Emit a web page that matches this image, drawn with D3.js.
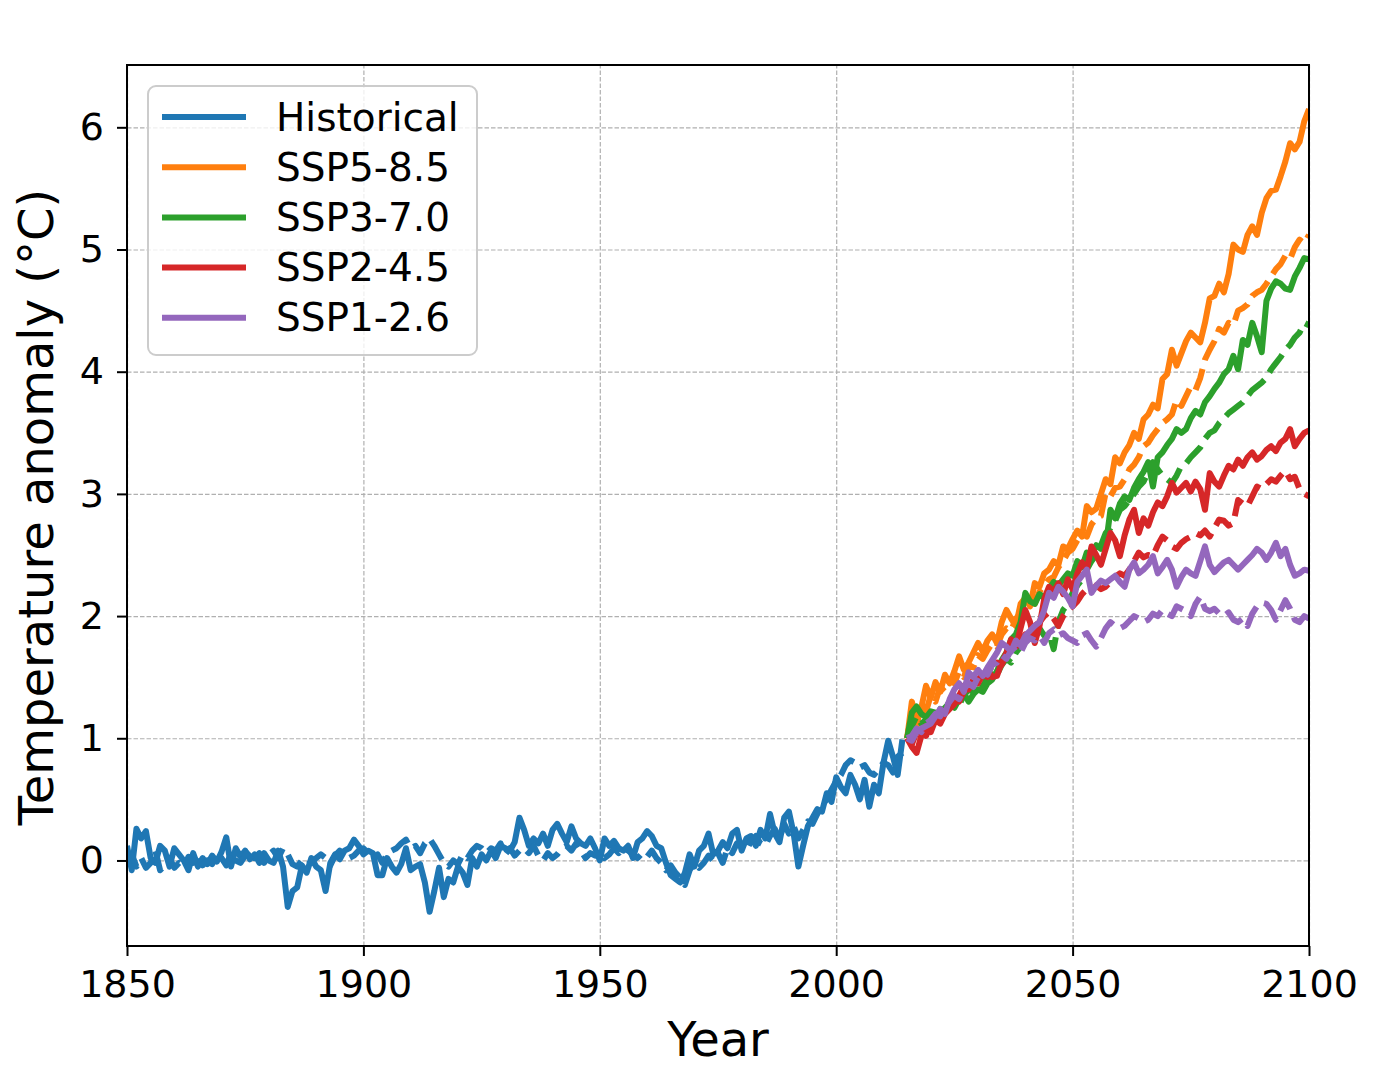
<!doctype html>
<html lang="en">
  <head>
    <meta charset="UTF-8" />
    <title>Temperature anomaly</title>
    <script src="https://unpkg.com/d3@7.9.0/dist/d3.min.js"></script>
    <style>
      body {
        margin: 0;
        background: #fff;
        font-family: 'DejaVu Sans', sans-serif;
        overflow: hidden;
      }
      .grid line {
        stroke: #b0b0b0;
        stroke-width: 1.2;
        stroke-dasharray: 4.5, 2;
      }
      .grid .domain {
        display: none;
      }
      .axis text {
        font-size: 38px;
        fill: #000;
        font-family: 'DejaVu Sans', sans-serif;
      }
      .axis line,
      .axis path {
        stroke: #000;
        stroke-width: 2;
      }
      .axis-label {
        font-size: 48px;
        fill: #000;
      }
    </style>
  </head>
  <body>
    <svg width="1391" height="1072"></svg>

    <script>
      // historical runs, 1850-2014
      const histYears = d3.range(1850, 2015);
      const histSolid = [
        0.12, -0.08, 0.26, 0.18, 0.24, 0.02, -0.02, 0.12, 0.08, -0.05,
        0.1, 0.05, 0.0, -0.08, 0.06, -0.05, 0.02, -0.03, 0.04, -0.01,
        0.07, 0.19, -0.05, 0.1, 0.03, 0.08, 0.01, 0.05, -0.02, 0.06,
        0.0, -0.02, 0.08, -0.05, -0.38, -0.25, -0.22, -0.04, -0.1, 0.02,
        -0.05, -0.08, -0.25, -0.02, 0.05, 0.01, 0.08, 0.1, 0.17, 0.12,
        0.05, 0.08, 0.06, -0.12, -0.12, 0.02, -0.05, -0.1, -0.03, 0.1,
        -0.08, -0.05, -0.03, -0.18, -0.42, -0.25, -0.06, -0.3, -0.15, -0.18,
        -0.05, -0.1, -0.2, 0.02, -0.05, 0.05, 0.0, 0.08, 0.02, 0.12,
        0.1, 0.08, 0.15, 0.35, 0.25, 0.12, 0.18, 0.14, 0.22, 0.12,
        0.25, 0.3, 0.22, 0.15, 0.28, 0.18, 0.14, 0.12, 0.18, 0.1,
        0.0, 0.18, 0.12, 0.16, 0.1, 0.08, 0.12, 0.02, 0.15, 0.18,
        0.24, 0.2, 0.12, 0.1, -0.02, -0.12, -0.15, -0.18, -0.1, 0.05,
        -0.05, 0.08, 0.12, 0.22, 0.05, 0.08, 0.15, 0.1, 0.22, 0.25,
        0.08, 0.18, 0.2, 0.12, 0.25, 0.18, 0.38, 0.22, 0.15, 0.35,
        0.4, 0.22, -0.05, 0.12, 0.28, 0.35, 0.42, 0.4, 0.55, 0.48,
        0.68, 0.6, 0.55, 0.7, 0.62, 0.5, 0.66, 0.44, 0.62, 0.55,
        0.8, 0.98, 0.85, 0.7, 0.99,
      ];
      const histDashed = [
        0.0, 0.05, -0.05, 0.02, -0.06, -0.02, 0.08, -0.08, -0.04, 0.02,
        -0.06, -0.02, -0.05, 0.03, -0.02, 0.04, -0.04, 0.0, -0.03, 0.05,
        0.02, -0.04, 0.06, 0.0, -0.02, 0.04, 0.08, 0.02, 0.06, -0.02,
        0.05, 0.08, 0.02, 0.1, 0.05, -0.03, -0.05, 0.0, 0.02, -0.02,
        0.02, 0.05, 0.02, -0.04, 0.04, 0.08, 0.05, 0.02, 0.04, 0.08,
        0.1, 0.06, 0.02, 0.05, -0.02, 0.05, 0.08, 0.1, 0.14, 0.17,
        0.1, 0.12, 0.06, 0.14, 0.18, 0.12, 0.05, -0.02, -0.05, 0.0,
        -0.03, 0.05, 0.02, 0.08, 0.12, 0.1, 0.06, 0.1, 0.08, 0.14,
        0.05, 0.1, 0.04, 0.08, 0.1, 0.06, 0.12, 0.04, 0.0, 0.06,
        0.02, 0.05, 0.1, 0.12, 0.08, 0.14, 0.08, 0.02, 0.06, 0.04,
        0.08, 0.02, 0.05, 0.1, 0.06, 0.12, 0.08, 0.05, 0.02, 0.06,
        0.03, 0.08, 0.02, -0.02, -0.08, -0.04, -0.1, -0.14, -0.2, -0.08,
        -0.02, -0.06, -0.02, 0.04, 0.0, 0.06, -0.02, 0.1, 0.06, 0.14,
        0.12, 0.08, 0.16, 0.2, 0.14, 0.12, 0.2, 0.26, 0.18, 0.3,
        0.22, 0.28, 0.18, 0.25, 0.32, 0.3, 0.38, 0.45, 0.5, 0.58,
        0.65, 0.7, 0.78, 0.82, 0.8, 0.76, 0.78, 0.72, 0.7, 0.75,
        0.8, 0.78, 0.72, 0.85, 0.88,
      ];

      // scenario runs, 2015-2100 (solid = model A, dashed = model B)
      const sspYears = d3.range(2015, 2101);
      const ssp585Solid = [
        1.0, 1.3, 1.15, 1.25, 1.43, 1.33, 1.46, 1.38, 1.52, 1.45,
        1.55, 1.67, 1.56, 1.62, 1.7, 1.78, 1.71, 1.8, 1.85, 1.78,
        1.95, 2.05, 1.98, 1.92, 2.1, 2.15, 2.08, 2.27, 2.24, 2.35,
        2.38, 2.45, 2.42, 2.57, 2.55, 2.63, 2.7, 2.65, 2.9, 2.85,
        2.88, 3.0, 3.12, 3.08, 3.3, 3.25, 3.34, 3.4, 3.5, 3.45,
        3.61, 3.65, 3.73, 3.7, 3.94, 3.98, 4.18, 4.05, 4.15, 4.25,
        4.32, 4.28, 4.24, 4.4, 4.6, 4.62, 4.72, 4.65, 4.8, 5.04,
        5.0, 4.98, 5.12, 5.19, 5.12, 5.3, 5.42, 5.48, 5.49, 5.6,
        5.72, 5.87, 5.82, 5.88, 6.05, 6.15,
      ];
      const ssp585Dashed = [
        1.0, 1.2, 1.1, 1.28, 1.22, 1.35, 1.3, 1.42, 1.38, 1.48,
        1.45, 1.55, 1.5, 1.6, 1.58, 1.68, 1.65, 1.72, 1.78, 1.75,
        1.85, 1.9, 1.88, 1.98, 2.02, 2.05, 2.12, 2.1, 2.2, 2.25,
        2.3, 2.32, 2.4, 2.45, 2.52, 2.55, 2.62, 2.68, 2.65, 2.75,
        2.8, 2.82, 3.01, 2.98, 3.05, 3.06, 3.12, 3.2, 3.24, 3.3,
        3.39, 3.42, 3.48, 3.53, 3.58, 3.61, 3.65, 3.77, 3.72, 3.8,
        3.88, 3.85, 3.95, 4.1, 4.18, 4.25, 4.35, 4.32, 4.4, 4.38,
        4.5, 4.52, 4.55, 4.62, 4.65, 4.67, 4.72, 4.78, 4.84, 4.88,
        4.95, 4.92, 5.02, 5.08, 5.05, 5.12,
      ];
      const ssp370Solid = [
        1.0, 1.21, 1.26, 1.2, 1.17, 1.22, 1.21, 1.18, 1.25, 1.29,
        1.25, 1.32, 1.37, 1.3, 1.36, 1.4, 1.38, 1.45, 1.48, 1.55,
        1.64, 1.7, 1.81, 1.85, 1.95, 2.19, 2.12, 2.1, 2.18, 2.15,
        2.22, 2.28, 2.25, 2.3, 2.35, 2.33, 2.45, 2.4, 2.52, 2.5,
        2.58, 2.55, 2.57, 2.87, 2.8, 2.92, 2.98, 2.95, 3.05, 3.12,
        3.18, 3.26, 3.06, 3.3, 3.34, 3.4, 3.45, 3.53, 3.5, 3.53,
        3.62, 3.68, 3.65, 3.75, 3.8, 3.86, 3.91, 3.98, 4.02, 4.13,
        4.02, 4.26, 4.22, 4.4, 4.29, 4.16, 4.58, 4.68, 4.74, 4.72,
        4.68, 4.67, 4.78, 4.85, 4.93, 4.92,
      ];
      const ssp370Dashed = [
        1.0, 1.1, 1.18, 1.12, 1.15, 1.2, 1.16, 1.24, 1.22, 1.28,
        1.3, 1.27, 1.35, 1.4, 1.38, 1.44, 1.42, 1.5, 1.55, 1.52,
        1.6, 1.65, 1.62, 1.7, 1.75, 1.8, 1.85, 1.82, 1.9, 1.84,
        1.86, 1.73, 1.95, 2.05, 2.1, 2.19, 2.25, 2.3, 2.38, 2.45,
        2.5, 2.58, 2.68, 2.72, 2.78, 2.87, 2.9, 2.95, 3.0, 3.06,
        3.1, 3.18, 3.26, 3.2, 3.15, 3.12, 3.09, 3.15, 3.23, 3.25,
        3.3, 3.34, 3.38, 3.45, 3.5, 3.52, 3.58, 3.62, 3.66, 3.69,
        3.72, 3.75, 3.8, 3.85, 3.88, 3.91, 3.95, 4.02, 4.07, 4.12,
        4.18, 4.22, 4.28, 4.32, 4.4, 4.38,
      ];
      const ssp245Solid = [
        1.0, 0.93, 0.88, 1.02, 1.1, 1.05, 1.15, 1.12, 1.2, 1.24,
        1.28, 1.35, 1.43, 1.4, 1.48, 1.45, 1.52, 1.56, 1.5, 1.51,
        1.62, 1.7, 1.81, 1.75, 1.9, 2.05, 1.95, 1.78, 1.92, 2.14,
        2.24, 2.2, 2.27, 2.18, 2.3, 2.22, 2.35, 2.44, 2.38, 2.57,
        2.5, 2.42, 2.55, 2.68, 2.62, 2.49, 2.66, 2.79, 2.87, 2.68,
        2.8, 2.74, 2.85, 2.93, 2.9, 2.98, 3.09, 3.01, 3.05, 3.09,
        3.02, 3.1, 3.04, 2.87, 3.17, 3.1, 3.06, 3.15, 3.23, 3.2,
        3.28, 3.23, 3.3, 3.34, 3.28, 3.31, 3.36, 3.39, 3.35, 3.42,
        3.45, 3.53, 3.39, 3.45, 3.5, 3.52,
      ];
      const ssp245Dashed = [
        1.0, 0.95, 1.05, 1.08, 1.02, 1.12, 1.18, 1.15, 1.22, 1.28,
        1.32, 1.3, 1.38, 1.42, 1.4, 1.48, 1.52, 1.5, 1.58, 1.62,
        1.6, 1.68, 1.72, 1.75, 1.8, 1.85, 1.82, 1.92, 1.95, 2.0,
        2.03, 1.98, 1.92, 2.0, 2.05, 2.08, 2.12, 2.18, 2.22, 2.2,
        2.25, 2.22, 2.24, 2.28, 2.32, 2.35, 2.33, 2.38, 2.45, 2.52,
        2.48, 2.5, 2.49, 2.58, 2.65, 2.62, 2.57, 2.55, 2.6, 2.63,
        2.65, 2.68, 2.66, 2.7, 2.65, 2.72, 2.79, 2.78, 2.74, 2.76,
        2.95, 2.92, 2.9, 2.98, 3.06, 3.04, 3.08, 3.12, 3.1, 3.15,
        3.19, 3.12, 3.14, 3.04, 3.0, 2.98,
      ];
      const ssp126Solid = [
        1.0, 0.98, 1.05, 1.08, 1.1, 1.12, 1.18, 1.24, 1.2, 1.32,
        1.4, 1.45, 1.38, 1.54, 1.5, 1.56, 1.51, 1.58, 1.64, 1.7,
        1.78, 1.75, 1.71, 1.8, 1.76, 1.84, 1.88, 1.92, 1.95, 2.05,
        2.19, 2.15, 2.24, 2.2, 2.15, 2.08, 2.28, 2.33, 2.38, 2.19,
        2.25, 2.29, 2.27, 2.3, 2.33, 2.28, 2.24, 2.38, 2.44, 2.35,
        2.38, 2.42, 2.49, 2.35, 2.4, 2.46, 2.38, 2.24, 2.32, 2.38,
        2.35, 2.33, 2.45, 2.57, 2.42, 2.36, 2.4, 2.44, 2.46, 2.42,
        2.38, 2.42, 2.46, 2.5, 2.55, 2.52, 2.46, 2.52, 2.6, 2.49,
        2.55, 2.42, 2.33, 2.35, 2.38, 2.37,
      ];
      const ssp126Dashed = [
        1.0, 1.02, 1.08, 1.05, 1.12, 1.15, 1.2, 1.18, 1.25, 1.3,
        1.35, 1.32, 1.4, 1.45, 1.42, 1.5, 1.55, 1.52, 1.6, 1.62,
        1.68, 1.65, 1.72, 1.75, 1.7, 1.78, 1.82, 1.8, 1.84, 1.78,
        1.86, 1.89, 1.84, 1.86, 1.82, 1.8, 1.78, 1.84, 1.86, 1.8,
        1.75, 1.82, 1.9, 1.95, 1.92, 1.9, 1.92, 1.96, 2.0, 1.98,
        1.95, 1.97, 2.02, 2.0, 2.05, 2.02, 2.0, 2.08, 2.06, 2.04,
        2.0, 2.1, 2.16, 2.06, 2.04, 2.06, 2.02, 2.0, 2.03, 1.97,
        1.95, 1.98, 1.92, 2.02, 2.08, 2.11, 2.1, 2.05, 1.97, 2.05,
        2.13, 2.06, 1.97, 1.95, 2.0, 1.98,
      ];

      const seriesNames = ['Historical', 'SSP5-8.5', 'SSP3-7.0', 'SSP2-4.5', 'SSP1-2.6'];
      const colors = ['#1f77b4', '#ff7f0e', '#2ca02c', '#d62728', '#9467bd'];
      const xTicks = [1850, 1900, 1950, 2000, 2050, 2100];
      const yTicks = [0, 1, 2, 3, 4, 5, 6];

      const margin = { top: 65, right: 82, bottom: 126, left: 127 },
        width = 1391 - margin.left - margin.right,
        height = 1072 - margin.top - margin.bottom;

      const svg = d3
        .select('svg')
        .append('g')
        .attr('transform', `translate(${margin.left},${margin.top})`);

      const x = d3.scaleLinear().domain([1850, 2100]).range([0, width]);
      const y = d3.scaleLinear().domain([-0.7, 6.51]).range([height, 0]);

      // grid
      svg
        .append('g')
        .attr('class', 'grid')
        .attr('transform', `translate(0,${height})`)
        .call(d3.axisBottom(x).tickValues(xTicks).tickSize(-height).tickFormat(''));
      svg
        .append('g')
        .attr('class', 'grid')
        .call(d3.axisLeft(y).tickValues(yTicks).tickSize(-width).tickFormat(''));

      const line = d3
        .line()
        .x((d) => x(d[0]))
        .y((d) => y(d[1]));

      const runs = [
        { years: histYears, vals: histSolid, c: 0, dash: false },
        { years: histYears, vals: histDashed, c: 0, dash: true },
        { years: sspYears, vals: ssp585Solid, c: 1, dash: false },
        { years: sspYears, vals: ssp585Dashed, c: 1, dash: true },
        { years: sspYears, vals: ssp370Solid, c: 2, dash: false },
        { years: sspYears, vals: ssp370Dashed, c: 2, dash: true },
        { years: sspYears, vals: ssp245Solid, c: 3, dash: false },
        { years: sspYears, vals: ssp245Dashed, c: 3, dash: true },
        { years: sspYears, vals: ssp126Solid, c: 4, dash: false },
        { years: sspYears, vals: ssp126Dashed, c: 4, dash: true },
      ];

      svg
        .append('clipPath')
        .attr('id', 'clip')
        .append('rect')
        .attr('width', width)
        .attr('height', height);

      svg
        .append('g')
        .attr('clip-path', 'url(#clip)')
        .selectAll('path')
        .data(runs)
        .enter()
        .append('path')
        .attr('d', (r) => line(r.years.map((yr, i) => [yr, r.vals[i]])))
        .attr('fill', 'none')
        .attr('stroke', (r) => colors[r.c])
        .attr('stroke-width', 6)
        .attr('stroke-linejoin', 'round')
        .attr('stroke-dasharray', (r) => (r.dash ? '22,9' : null));

      // axes
      const xAxis = svg
        .append('g')
        .attr('class', 'axis')
        .attr('transform', `translate(0,${height})`)
        .call(d3.axisBottom(x).tickValues(xTicks).tickSize(10).tickPadding(14).tickFormat(d3.format('d')));
      const yAxis = svg
        .append('g')
        .attr('class', 'axis')
        .call(d3.axisLeft(y).tickValues(yTicks).tickSize(10).tickPadding(13));
      xAxis.select('.domain').remove();
      yAxis.select('.domain').remove();

      // frame
      svg
        .append('rect')
        .attr('width', width)
        .attr('height', height)
        .attr('fill', 'none')
        .attr('stroke', '#000')
        .attr('stroke-width', 2);

      svg
        .append('text')
        .attr('class', 'axis-label')
        .attr('x', width / 2)
        .attr('y', height + 110)
        .style('text-anchor', 'middle')
        .text('Year');

      svg
        .append('text')
        .attr('class', 'axis-label')
        .attr('transform', 'rotate(-90)')
        .attr('x', -442)
        .attr('y', -74)
        .style('text-anchor', 'middle')
        .text('Temperature anomaly (°C)');

      // legend
      const legend = svg.append('g').attr('transform', 'translate(21,21)');
      legend
        .append('rect')
        .attr('width', 329)
        .attr('height', 269)
        .attr('rx', 8)
        .attr('fill', 'rgba(255,255,255,0.8)')
        .attr('stroke', '#cccccc')
        .attr('stroke-width', 2);

      const items = legend
        .selectAll('.item')
        .data(seriesNames)
        .enter()
        .append('g')
        .attr('class', 'item')
        .attr('transform', (d, i) => `translate(0,${31 + i * 50.2})`);
      items
        .append('line')
        .attr('x1', 14)
        .attr('x2', 98)
        .attr('stroke', (d, i) => colors[i])
        .attr('stroke-width', 6);
      items
        .append('text')
        .attr('x', 128)
        .attr('dy', '0.35em')
        .style('font-size', '39px')
        .text((d) => d);
    </script>
  </body>
</html>
